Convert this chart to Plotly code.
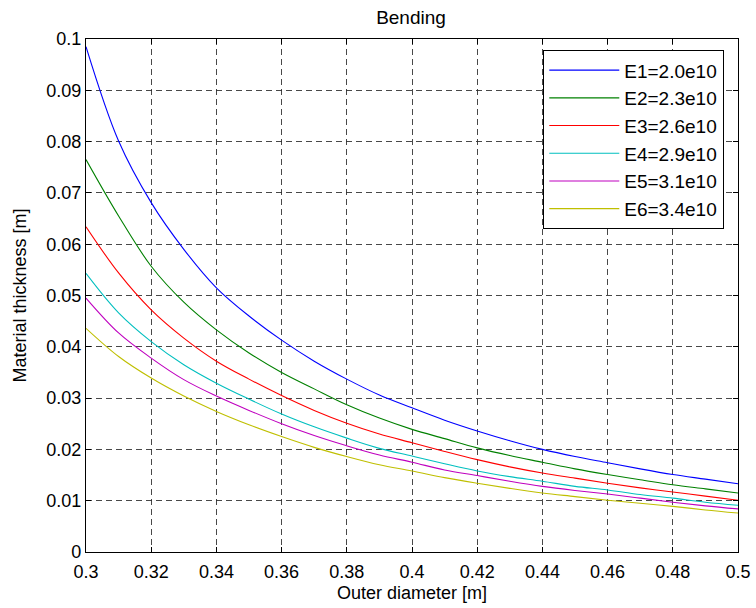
import plotly.graph_objects as go

diameter = [0.30, 0.31, 0.32, 0.33, 0.34, 0.35, 0.36, 0.37, 0.38, 0.39, 0.40,
            0.41, 0.42, 0.43, 0.44, 0.45, 0.46, 0.47, 0.48, 0.49, 0.50]

e1 = [0.0985, 0.0801, 0.0681, 0.0590, 0.0515, 0.0460, 0.0413, 0.0372, 0.0337, 0.0306, 0.0281,
      0.0257, 0.0236, 0.0217, 0.0200, 0.0186, 0.0174, 0.0162, 0.0151, 0.0142, 0.0133]
e2 = [0.0765, 0.0655, 0.0557, 0.0487, 0.0433, 0.0388, 0.0350, 0.0318, 0.0287, 0.0261, 0.0239,
      0.0221, 0.0203, 0.0188, 0.0175, 0.0162, 0.0151, 0.0141, 0.0131, 0.0123, 0.0115]
e3 = [0.0634, 0.0544, 0.0472, 0.0417, 0.0372, 0.0337, 0.0305, 0.0276, 0.0251, 0.0230, 0.0213,
      0.0196, 0.0180, 0.0166, 0.0154, 0.0144, 0.0134, 0.0125, 0.0117, 0.0109, 0.0101]
e4 = [0.0543, 0.0466, 0.0410, 0.0365, 0.0329, 0.0298, 0.0269, 0.0244, 0.0222, 0.0202, 0.0187,
      0.0172, 0.0158, 0.0147, 0.0138, 0.0128, 0.0121, 0.0112, 0.0105, 0.0097, 0.0091]
e5 = [0.0495, 0.0427, 0.0378, 0.0336, 0.0304, 0.0276, 0.0250, 0.0227, 0.0207, 0.0189, 0.0175,
      0.0160, 0.0149, 0.0138, 0.0128, 0.0120, 0.0113, 0.0105, 0.0097, 0.0090, 0.0084]
e6 = [0.0436, 0.0381, 0.0339, 0.0304, 0.0274, 0.0248, 0.0225, 0.0204, 0.0186, 0.0170, 0.0158,
      0.0145, 0.0134, 0.0124, 0.0115, 0.0108, 0.0101, 0.0095, 0.0089, 0.0082, 0.0076]

series_names = ["E1=2.0e10", "E2=2.3e10", "E3=2.6e10", "E4=2.9e10", "E5=3.1e10", "E6=3.4e10"]
series_values = [e1, e2, e3, e4, e5, e6]
series_colors = ["rgb(0,0,255)", "rgb(0,128,0)", "rgb(255,0,0)",
                 "rgb(0,191,191)", "rgb(191,0,191)", "rgb(191,191,0)"]

x_ticks = [0.30, 0.32, 0.34, 0.36, 0.38, 0.40, 0.42, 0.44, 0.46, 0.48, 0.50]
x_tick_labels = ["0.3", "0.32", "0.34", "0.36", "0.38", "0.4", "0.42", "0.44", "0.46", "0.48", "0.5"]
y_ticks = [0, 0.01, 0.02, 0.03, 0.04, 0.05, 0.06, 0.07, 0.08, 0.09, 0.1]
y_tick_labels = ["0", "0.01", "0.02", "0.03", "0.04", "0.05", "0.06", "0.07", "0.08", "0.09", "0.1"]

FONT = "Liberation Sans, Arial, sans-serif"

fig = go.Figure()
for name, vals, col in zip(series_names, series_values, series_colors):
    fig.add_trace(go.Scatter(x=diameter, y=vals, mode="lines", name=name,
                             line=dict(color=col, width=1.1, shape="spline", smoothing=1.0)))

axis_common = dict(
    showline=True, linecolor="black", linewidth=1.3, mirror="ticks",
    ticks="inside", ticklen=5, tickcolor="black", tickwidth=1,
    showgrid=True, gridcolor="rgba(40,40,40,0.85)", gridwidth=1, griddash="6px,4px",
    zeroline=False, tickfont=dict(family=FONT, size=18, color="black"),
)

fig.update_xaxes(range=[0.3, 0.5], tickvals=x_ticks, ticktext=x_tick_labels,
                 ticklabelstandoff=3,
                 title=dict(text="Outer diameter [m]", font=dict(family=FONT, size=18, color="black"),
                            standoff=5),
                 **axis_common)
fig.update_yaxes(range=[0, 0.1], tickvals=y_ticks, ticktext=y_tick_labels,
                 title=dict(text="Material thickness [m]", font=dict(family=FONT, size=18, color="black"),
                            standoff=14),
                 **axis_common)

fig.update_layout(
    width=756, height=608,
    margin=dict(l=86, r=18, t=39, b=56, autoexpand=False),
    paper_bgcolor="white", plot_bgcolor="white",
    title=dict(text="Bending", x=411 / 756, xanchor="center",
               y=1 - 17 / 608, yanchor="middle", yref="container",
               font=dict(family=FONT, size=19, color="black")),
    legend=dict(x=0.9785, y=0.9786, xanchor="right", yanchor="top",
                bgcolor="white", bordercolor="black", borderwidth=1.3,
                font=dict(family=FONT, size=19, color="black"),
                itemwidth=70, tracegroupgap=0),
    showlegend=True,
)

fig.write_html("out.html")
